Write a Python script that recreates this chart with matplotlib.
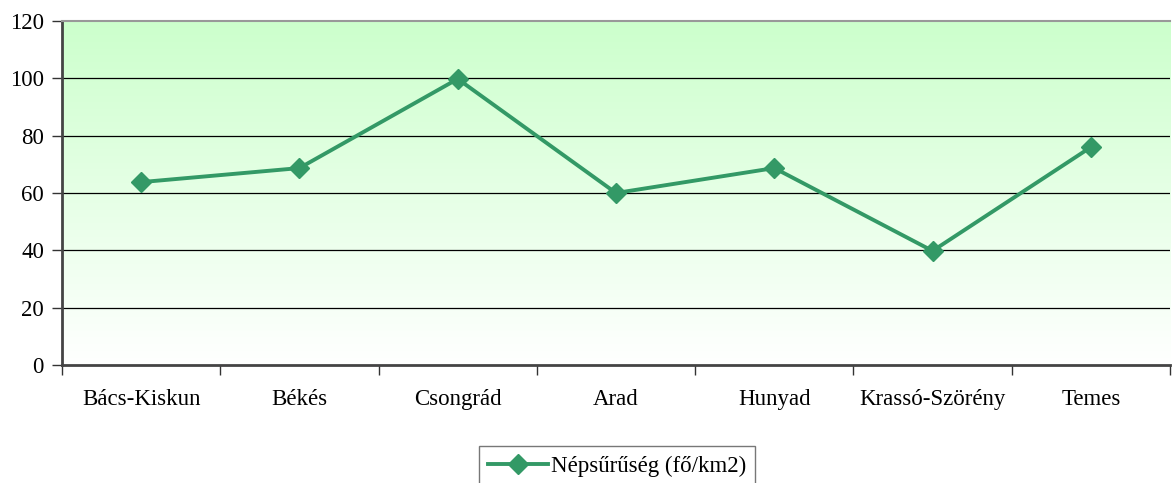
import matplotlib
matplotlib.use('Agg')
import numpy as np
from matplotlib import pyplot as plt
from matplotlib.colors import LinearSegmentedColormap

# data
megyek = ['Bács-Kiskun', 'Békés', 'Csongrád', 'Arad', 'Hunyad',
          'Krassó-Szörény', 'Temes']
nepsuruseg = [63.8, 68.7, 99.8, 60.0, 68.7, 39.8, 76.0]
y_ticks = [0, 20, 40, 60, 80, 100, 120]

plt.rcParams['font.family'] = ['Liberation Serif', 'DejaVu Serif']

fig = plt.figure(figsize=(11.74, 4.83), dpi=100)
ax = fig.add_axes([0.0528, 0.2443, 0.9438, 0.7122])

# green-to-white gradient background
cmap = LinearSegmentedColormap.from_list('bg', ['#ffffff', '#ccffcc'])
grad = np.linspace(0, 1, 256).reshape(-1, 1)
ax.imshow(grad, cmap=cmap, aspect='auto', origin='lower',
          extent=[0, 1, 0, 1], transform=ax.transAxes, zorder=0)

x = np.arange(len(megyek))
ax.plot(x, nepsuruseg, color='#339966', lw=2.8, marker='D', ms=10.5,
        label='Népsűrűség (fő/km2)', zorder=3)

ax.set_xlim(-0.5, len(megyek) - 0.5)
ax.set_ylim(0, 120)
ax.set_yticks(y_ticks)
ax.set_yticklabels([str(v) for v in y_ticks], fontsize=16.5)
for v in y_ticks[1:-1]:
    ax.axhline(v, color='black', lw=0.9, zorder=1)

ax.set_xticks(x)
ax.set_xticklabels(megyek, fontsize=16.5)
ax.set_xticks(np.arange(len(megyek) + 1) - 0.5, minor=True)
ax.tick_params(axis='x', which='major', length=0, pad=17)
ax.tick_params(axis='x', which='minor', length=7, width=1, color='#333333')
ax.tick_params(axis='y', length=7, width=1, color='#333333', pad=6)

ax.spines['left'].set_color('#444444')
ax.spines['left'].set_linewidth(2)
ax.spines['bottom'].set_color('#444444')
ax.spines['bottom'].set_linewidth(2)
ax.spines['top'].set_color('#999999')
ax.spines['top'].set_linewidth(1.5)
ax.spines['right'].set_visible(False)

leg = fig.legend(loc='center', bbox_to_anchor=(0.5256, 0.035), fontsize=16.5,
                 frameon=True, fancybox=False, edgecolor='#555555',
                 handlelength=2.6, handletextpad=0.15, borderpad=0.4)
leg.get_frame().set_linewidth(1)

fig.savefig('out.png', dpi=100)
